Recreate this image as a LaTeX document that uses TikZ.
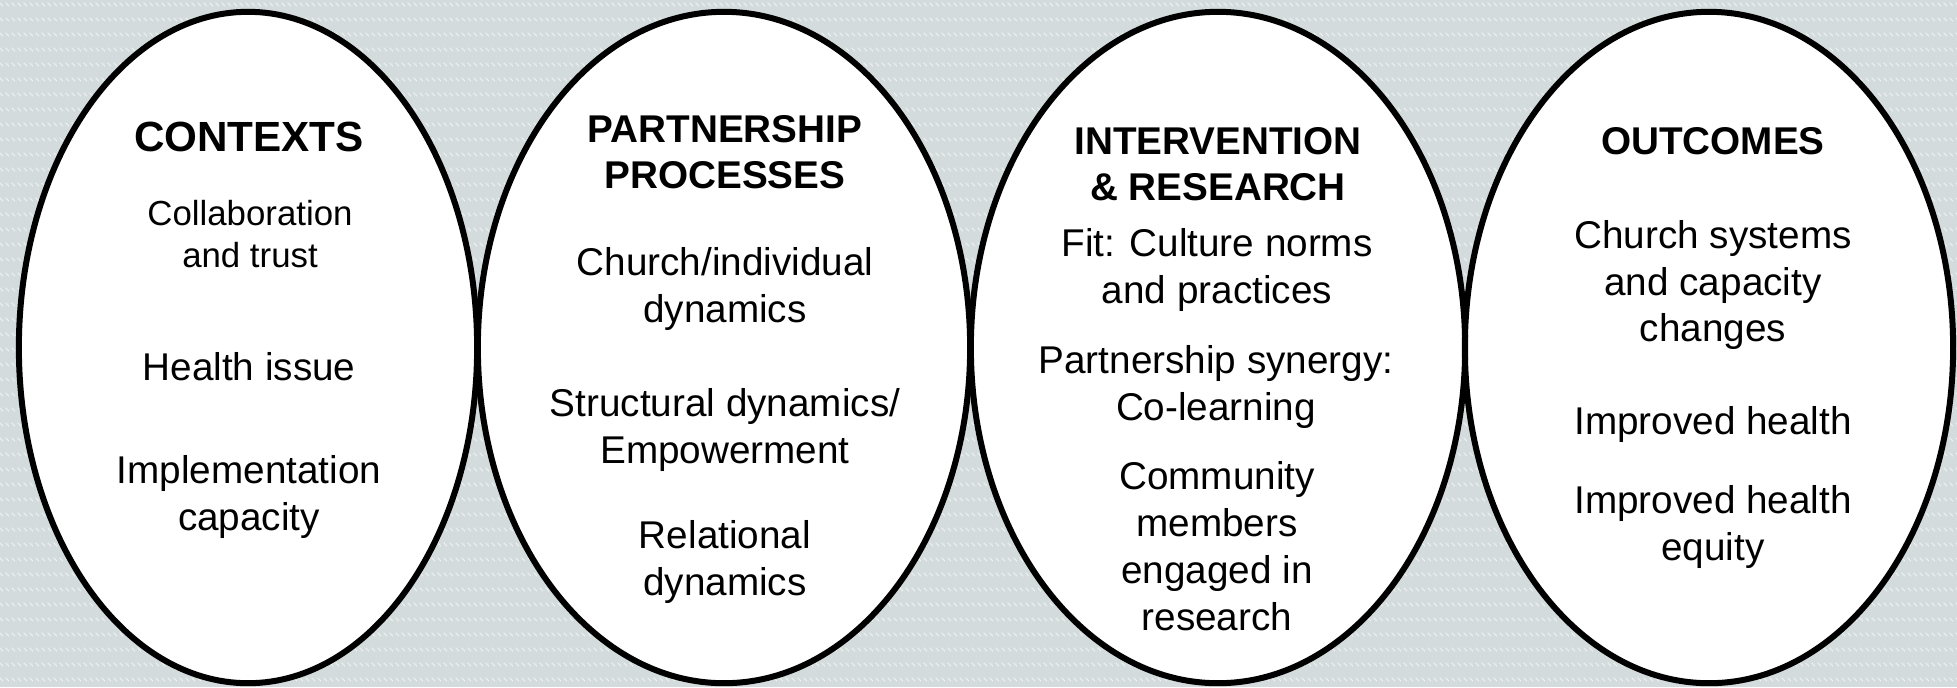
\documentclass[tikz,border=0pt]{standalone}
\usepackage{fontspec}
\setmainfont{Liberation Sans}
\usetikzlibrary{patterns}
\definecolor{bggray}{HTML}{D4DBDC}
\definecolor{bgdash}{HTML}{EBF0F0}
% short diagonal dashes laid out in horizontal bands
\pgfdeclarepatternformonly{diagdash}{\pgfpointorigin}{\pgfpoint{0.06cm}{0.15cm}}{\pgfpoint{0.06cm}{0.15cm}}{%
  \pgfsetlinewidth{0.012cm}%
  \pgfpathmoveto{\pgfpoint{0.008cm}{0.11cm}}%
  \pgfpathlineto{\pgfpoint{0.046cm}{0.072cm}}%
  \pgfusepath{stroke}%
}
\begin{document}
\begin{tikzpicture}[x=0.01cm,y=-0.01cm,
  ring/.style={line width=0.06cm, draw=black},
  title/.style={font=\bfseries\fontsize{11}{13.1}\selectfont, align=center, inner sep=0pt},
  body/.style={font=\fontsize{11}{13.3}\selectfont, align=center, inner sep=0pt},
  small/.style={font=\fontsize{9.9}{12.2}\selectfont, align=center, inner sep=0pt}]
\useasboundingbox (0,0) rectangle (1957,687);
% background
\fill[bggray] (0,0) rectangle (1957,687);
\fill[pattern=diagdash, pattern color=bgdash] (0,0) rectangle (1957,687);
% the four ovals: fills first, outlines on top
\foreach \cx/\rx in {248/2.29, 724/2.46, 1218/2.47, 1709/2.44}
  \fill[white] (\cx,347.5) ellipse [x radius=\rx cm, y radius=3.355cm];
\foreach \cx/\rx in {248/2.29, 724/2.46, 1218/2.47, 1709/2.44}
  \draw[ring] (\cx,347.5) ellipse [x radius=\rx cm, y radius=3.355cm];
% contexts
\node[title, font=\bfseries\fontsize{12}{14}\selectfont] (ctxT) at (249,137) {CONTEXTS};
\node[small] (ctx1) at (250,234) {Collaboration\\and trust};
\node[body] (ctx2) at (249,367) {Health issue};
\node[body] (ctx3) at (249,497) {Implementation\\capacity};
% partnership processes
\node[title] (ppT) at (725,152) {PARTNERSHIP\\PROCESSES};
\node[body] (pp1) at (725,289) {Church/individual\\dynamics};
\node[body] (pp2) at (725,430) {Structural dynamics/\\Empowerment};
\node[body] (pp3) at (725,562) {Relational\\dynamics};
% intervention and research
\node[title] (irT) at (1218,164) {INTERVENTION\\\& RESEARCH};
\node[body] (ir1) at (1217,270) {Fit: Culture norms\\and practices};
\node[body] (ir2) at (1216,387) {Partnership synergy:\\Co-learning};
\node[body] (ir3) at (1217,546) {Community\\members\\engaged in\\research};
% outcomes
\node[title] (ocT) at (1713,141) {OUTCOMES};
\node[body] (oc1) at (1713,285) {Church systems\\and capacity\\changes};
\node[body] (oc2) at (1713,424) {Improved health};
\node[body] (oc3) at (1713,527) {Improved health\\equity};
\end{tikzpicture}
\end{document}
